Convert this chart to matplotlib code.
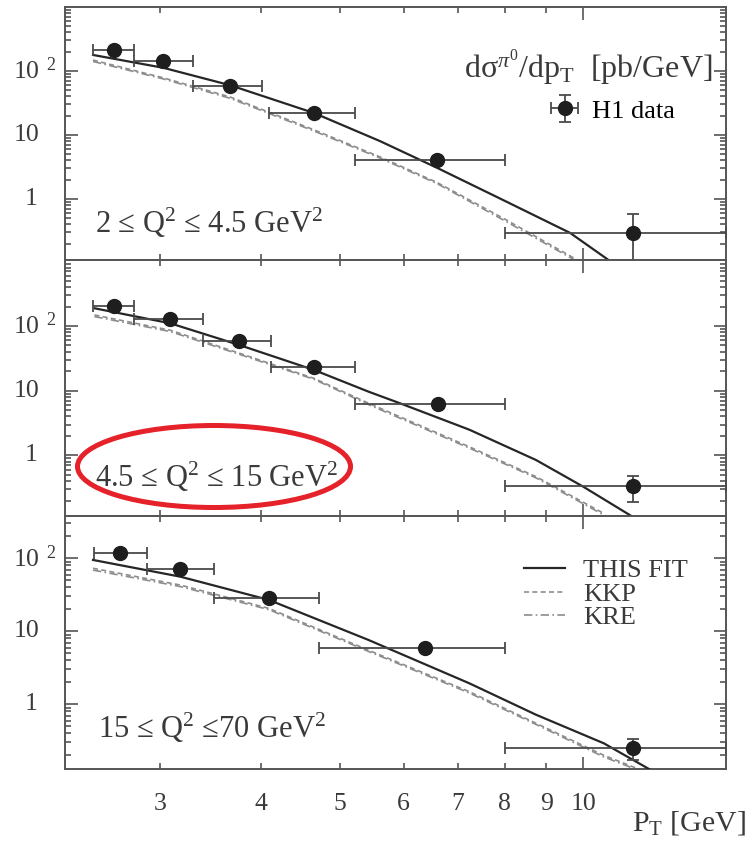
"""pi0 cross sections in three Q^2 bins: H1 data against THIS FIT, KKP and KRE."""

import matplotlib
matplotlib.use("Agg")
import matplotlib.pyplot as plt
from matplotlib import ticker
from matplotlib.patches import Ellipse

plt.rcParams["font.family"] = ["Liberation Serif", "DejaVu Serif"]
plt.rcParams["mathtext.fontset"] = "custom"
plt.rcParams["mathtext.rm"] = "Liberation Serif"
plt.rcParams["mathtext.it"] = "Liberation Serif:italic"
plt.rcParams["mathtext.bf"] = "Liberation Serif:bold"

INK, AXC, DATA, FIT, ALT = "#3a3a3a", "#555555", "#1e1e1e", "#262626", "#8c8c8c"
RED = "#e52129"

# ---- H1 data, 2 < Q^2 < 4.5 GeV^2
p1_pt = [2.63, 3.03, 3.66, 4.65, 6.60, 11.5]
p1_lo = [2.48, 2.79, 3.30, 4.09, 5.22, 8.0]
p1_hi = [2.79, 3.30, 4.01, 5.22, 8.0, 15.0]
p1_y = [213, 145, 58, 21.8, 4.1, 0.29]
p1_ydn = [14, 9, 5, 1.8, 0.45, 0.24]
p1_yup = [14, 9, 5, 1.8, 0.45, 0.29]

# ---- H1 data, 4.5 < Q^2 < 15 GeV^2
p2_pt = [2.63, 3.09, 3.76, 4.65, 6.61, 11.5]
p2_lo = [2.48, 2.79, 3.39, 4.11, 5.22, 8.0]
p2_hi = [2.79, 3.39, 4.11, 5.22, 8.0, 15.0]
p2_y = [206, 127, 59, 23.5, 6.2, 0.336]
p2_ydn = [14, 8, 5, 2.0, 0.7, 0.146]
p2_yup = [14, 8, 5, 2.0, 0.7, 0.144]

# ---- H1 data, 15 < Q^2 < 70 GeV^2
p3_pt = [2.68, 3.18, 4.09, 6.38, 11.5]
p3_lo = [2.49, 2.89, 3.50, 4.71, 8.0]
p3_hi = [2.89, 3.50, 4.71, 8.0, 15.0]
p3_y = [119, 70.7, 28.3, 5.85, 0.249]
p3_ydn = [9, 6, 3, 0.7, 0.079]
p3_yup = [9, 6, 3, 0.7, 0.081]

# ---- predictions
fit1_pt = [2.48, 3.03, 3.66, 4.65, 5.61, 6.60, 7.96, 9.63, 10.74]
fit1 = [178, 112, 60, 22, 8.0, 3.05, 0.96, 0.294, 0.111]
kkp1_pt = [2.48, 3.03, 3.66, 4.65, 5.61, 6.60, 7.96, 9.83]
kkp1 = [148, 78, 39.3, 12, 4.53, 1.8, 0.5, 0.111]
kre1 = [141, 75, 37.5, 11.5, 4.35, 1.73, 0.47, 0.105]

fit2_pt = [2.49, 3.09, 3.76, 4.65, 5.43, 5.94, 7.23, 8.74, 10.0, 11.5]
fit2 = [188, 110, 50.8, 20.9, 9.66, 6.38, 2.5, 0.85, 0.328, 0.113]
kkp2_pt = [2.49, 3.09, 3.76, 4.65, 5.43, 7.23, 8.74, 10.6]
kkp2 = [148, 86, 38, 15.5, 6.4, 1.36, 0.47, 0.127]
kre2 = [140, 82, 36.5, 15.0, 6.1, 1.30, 0.45, 0.120]

fit3_pt = [2.48, 3.18, 4.09, 5.43, 7.23, 8.74, 10.6, 12.05]
fit3 = [95, 56, 26.9, 7.6, 1.94, 0.72, 0.292, 0.13]
kkp3_pt = [2.48, 3.18, 4.09, 5.43, 7.23, 8.74, 10.6, 11.8]
kkp3 = [73, 43, 20.6, 5.5, 1.49, 0.55, 0.20, 0.125]
kre3 = [69, 41, 19.8, 5.3, 1.43, 0.53, 0.19, 0.12]

XLIM = (2.29, 15.0)
YLIMS = [(0.111, 1000), (0.116, 1047), (0.13, 380)]
YTICKS = [1, 10, 100]
YTICKLABELS = ["1", "10", "10$^{\\;\\;2}$"]
QLABELS = ["2 \u2264 Q$^2$ \u2264 4.5 GeV$^2$",
           "4.5 \u2264 Q$^2$ \u2264 15 GeV$^2$",
           "15 \u2264 Q$^2$ \u226470 GeV$^2$"]
QPOS = [(0.045, 0.105), (0.045, 0.114), (0.050, 0.121)]

W, H = 749, 843
LEFT, RIGHT = 65, 726


def _px(x):
    """horizontal pixel -> axes fraction"""
    return (x - LEFT) / (RIGHT - LEFT)


def _style(ax, ylim, bottom):
    ax.set_xscale("log")
    ax.set_yscale("log")
    ax.set_xlim(*XLIM)
    ax.set_ylim(*ylim)
    for s in ax.spines.values():
        s.set_color(AXC)
        s.set_linewidth(1.4)
    ax.tick_params(which="both", direction="in", top=True, right=True,
                   color=AXC, width=1.2, labelcolor=INK)
    ax.tick_params(which="major", length=9)
    ax.tick_params(which="minor", length=4.5)
    ax.set_yticks(YTICKS)
    ax.yaxis.set_major_formatter(ticker.NullFormatter())
    ax.yaxis.set_minor_formatter(ticker.NullFormatter())
    # y labels placed by hand, they do not share one alignment
    ytr = ax.get_yaxis_transform()
    ax.text(_px(31), YTICKS[0], YTICKLABELS[0], transform=ytr, fontsize=18.5,
            color=INK, ha="center", va="center")
    ax.text(_px(27), YTICKS[1], YTICKLABELS[1], transform=ytr, fontsize=18.5,
            color=INK, ha="center", va="center")
    ax.text(_px(13), YTICKS[2], YTICKLABELS[2], transform=ytr, fontsize=18.5,
            color=INK, ha="left", va="center")
    if bottom:
        ax.xaxis.set_major_formatter(ticker.FuncFormatter(lambda v, p: f"{v:.0f}"))
        ax.xaxis.set_minor_formatter(
            ticker.FuncFormatter(lambda v, p: f"{v:.0f}" if v < 10 else ""))
        ax.tick_params(axis="x", which="both", labelsize=18.5, pad=17)
    else:
        ax.xaxis.set_major_formatter(ticker.NullFormatter())
        ax.xaxis.set_minor_formatter(ticker.NullFormatter())


def _panel(ax, pt, lo, hi, y, ydn, yup, curves):
    fit_pt, fit, kkp_pt, kkp, kre = curves
    ax.plot(fit_pt, fit, color=FIT, lw=1.6, zorder=3, label="THIS FIT")
    ax.plot(kkp_pt, kkp, color=ALT, lw=1.2, ls=(0, (3, 2)), zorder=2, label="KKP")
    ax.plot(kkp_pt, kre, color=ALT, lw=1.2, ls=(0, (5, 2, 1, 2)), zorder=2, label="KRE")
    xerr = [[p - a for p, a in zip(pt, lo)], [b - p for p, b in zip(pt, hi)]]
    eb = ax.errorbar(pt, y, xerr=xerr, yerr=[ydn, yup], fmt="o", color=DATA,
                     ecolor="#4a4a4a", elinewidth=1.3, capsize=4, capthick=1.3,
                     markersize=10, zorder=4, label="H1 data")
    return eb


def main():
    fig = plt.figure(figsize=(W / 100, H / 100), dpi=100)
    edges = [(7, 260), (260, 516), (516, 769)]
    axes = []
    for top, bot in edges:
        axes.append(fig.add_axes([LEFT / W, 1 - bot / H, (RIGHT - LEFT) / W, (bot - top) / H]))

    data = [
        (p1_pt, p1_lo, p1_hi, p1_y, p1_ydn, p1_yup, (fit1_pt, fit1, kkp1_pt, kkp1, kre1)),
        (p2_pt, p2_lo, p2_hi, p2_y, p2_ydn, p2_yup, (fit2_pt, fit2, kkp2_pt, kkp2, kre2)),
        (p3_pt, p3_lo, p3_hi, p3_y, p3_ydn, p3_yup, (fit3_pt, fit3, kkp3_pt, kkp3, kre3)),
    ]
    handles = None
    for i, (ax, d) in enumerate(zip(axes, data)):
        eb = _panel(ax, *d)
        _style(ax, YLIMS[i], bottom=(i == 2))
        ax.text(*QPOS[i], QLABELS[i], transform=ax.transAxes, fontsize=22,
                color=INK, va="baseline", ha="left")
        if i == 0:
            handles = eb

    ax1, ax3 = axes[0], axes[2]
    ax1.text(0.980, 0.72, "d\u03c3$^{\\pi^0}$/dp$_\\mathrm{T}$  [pb/GeV]",
             transform=ax1.transAxes, fontsize=23, color=INK, ha="right", va="baseline")
    ax1.legend([handles], ["H1 data"], loc="center left", bbox_to_anchor=(_px(552), 0.589),
               frameon=False, fontsize=19, handlelength=0.95, handletextpad=0.55,
               borderpad=0, borderaxespad=0)

    lines = ax3.get_lines()[:3]
    leg = ax3.legend(lines, ["THIS FIT", "KKP", "KRE"], loc="upper left",
                     bbox_to_anchor=(_px(524), 0.83), frameon=False, fontsize=19,
                     handlelength=1.55, handletextpad=0.7, labelspacing=0.0,
                     borderpad=0, borderaxespad=0)
    for t in leg.get_texts():
        t.set_color(INK)

    fig.text(746 / W, 1 - 823 / H, "P$_\\mathrm{T}$ [GeV]", fontsize=21.5, color=INK,
             ha="right", va="center")

    ring = Ellipse((214 / W, 1 - 466.5 / H), 273 / W, 82 / H, transform=fig.transFigure,
                   fill=False, ec=RED, lw=3.6, zorder=10)
    fig.patches.append(ring)

    fig.savefig("out.png", dpi=100)
    plt.close(fig)


if __name__ == "__main__":
    main()
